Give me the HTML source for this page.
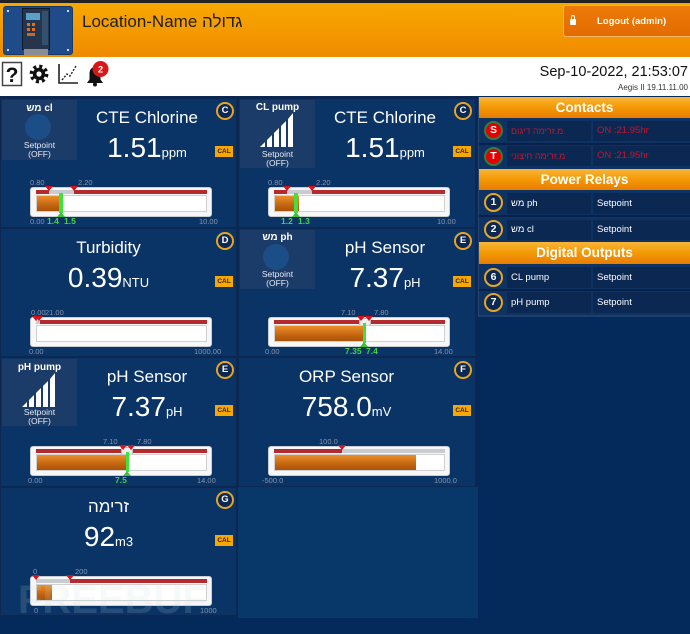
<!DOCTYPE html>
<html><head><meta charset="utf-8">
<style>
*{margin:0;padding:0;box-sizing:border-box}
body{width:690px;height:634px;overflow:hidden;position:relative;background:#032a5a;font-family:"Liberation Sans","DejaVu Sans","Noto Sans CJK JP",sans-serif}
.a{position:absolute}
.p{position:absolute;background:#0a3366;box-shadow:inset 0 0 0 1px #0c2750}
.bx{position:absolute;left:2px;top:2px;width:75px;background:#1b3b68}
.bl{position:absolute;left:0;width:75px;text-align:center;color:#fff;font-weight:bold;font-size:10px;line-height:12px;white-space:nowrap}
.sp{position:absolute;left:0;width:75px;text-align:center;color:#e6ecf4;font-size:8.5px;line-height:10px}
.cir{position:absolute;left:23px;top:14px;width:26px;height:26px;border-radius:50%;background:#1b4d86}
.t{position:absolute;top:10px;text-align:center;color:#fff;font-size:17px;line-height:20px;white-space:nowrap}
.v{position:absolute;top:36px;text-align:center;color:#fff;font-size:28px;line-height:28px;white-space:nowrap}
.v span{font-size:13px}
.bd{position:absolute;left:216px;top:4px;width:18px;height:18px;border-radius:50%;border:2px solid #e5a526;background:#0b2754;color:#fff;font-weight:bold;font-size:9.5px;line-height:14px;text-align:center}
.cal{position:absolute;left:215px;top:48px;width:18px;height:11px;background:#f6a800;color:#3a2000;font-weight:bold;font-size:6.5px;line-height:11px;text-align:center}
.gb{position:absolute;left:30px;top:89px;width:182px;height:30px;background:#f7f7f7;border:1px solid #c9ced5;border-radius:3px}
.gt{position:absolute;left:36px;top:92px;width:171px;height:4px;background:#c8ccd1}
.r{position:absolute;top:92px;height:4px;background:#b42a2e}
.tr{position:absolute;left:36px;top:97px;width:171px;height:17px;background:#fff;border:1px solid #d0d0d0}
.o{position:absolute;left:37px;top:98px;height:15px;background:linear-gradient(#eb8f2a,#c4650f 60%,#a9520a)}
.m{position:absolute;top:88px;width:0;height:0;border-left:4px solid transparent;border-right:4px solid transparent;border-top:5px solid #d7141c}
.gl{position:absolute;top:95px;width:3px;height:20px;background:#3ee23e}
.gtri{position:absolute;top:114px;width:0;height:0;border-left:4px solid transparent;border-right:4px solid transparent;border-bottom:5px solid #3cbf3c}
.kn{position:absolute;top:90px;height:8px;background:#eee;border:1px solid #bbb;border-radius:2px}
.lb{position:absolute;font-size:7.5px;line-height:8px;color:#8796ad;white-space:nowrap}
.lg{position:absolute;top:119px;font-size:8.5px;line-height:9px;color:#46d446;font-weight:bold;white-space:nowrap}
.sh{position:absolute;left:479px;width:211px;background:linear-gradient(#f8b53c,#f49c06 45%,#e97c00);color:#fff;font-weight:bold;font-size:13.5px;text-align:center}
.c1{position:absolute;left:507px;width:84px;background:#0b2853;color:#fff;font-size:9.5px;padding-left:4px;white-space:nowrap}
.c2{position:absolute;left:593px;width:97px;background:#0b2853;color:#fff;font-size:9.5px;padding-left:4px;white-space:nowrap}
.red{color:#c0182f}
.sb{position:absolute;left:484px;width:19px;height:19px;border-radius:50%;border:2px solid #e5a526;background:#0b2754;color:#fff;font-weight:bold;font-size:10.5px;line-height:15px;text-align:center}
.sb.rd{background:#e40000;border-color:#3a7a3f}
.sep{position:absolute;left:479px;width:211px;height:2px;background:#07214a}
</style></head><body>

<!-- header -->
<div class="a" style="left:0;top:0;width:690px;height:3px;background:#222"></div>
<div class="a" style="left:0;top:3px;width:690px;height:54px;background:linear-gradient(#f7a800,#f49a00 50%,#f08a00)"></div>
<div class="a" style="left:3px;top:6px;width:70px;height:49px;background:#1f4c88;border:1px solid #163a6a;border-radius:3px">
  <div class="a" style="left:18px;top:1px;width:28px;height:42px;background:#24354d;border:1px solid #0e1a2a"></div>
  <div class="a" style="left:22px;top:6px;width:14px;height:7px;background:#5aa0c8"></div>
  <div class="a" style="left:23px;top:16px;width:3px;height:3px;background:#e07020"></div>
  <div class="a" style="left:28px;top:16px;width:3px;height:3px;background:#e07020"></div>
  <div class="a" style="left:23px;top:21px;width:3px;height:3px;background:#e07020"></div>
  <div class="a" style="left:28px;top:21px;width:3px;height:3px;background:#e07020"></div>
  <div class="a" style="left:23px;top:26px;width:8px;height:3px;background:#c86a20"></div>
  <div class="a" style="left:38px;top:4px;width:6px;height:34px;background:#33506f"></div>
  <div class="a" style="left:20px;top:42px;width:24px;height:6px;background:#8a8f96"></div>
  <div class="a" style="left:3px;top:3px;width:2px;height:2px;background:#cfd8e4"></div>
  <div class="a" style="left:63px;top:3px;width:2px;height:2px;background:#cfd8e4"></div>
  <div class="a" style="left:3px;top:42px;width:2px;height:2px;background:#cfd8e4"></div>
  <div class="a" style="left:63px;top:42px;width:2px;height:2px;background:#cfd8e4"></div>
</div>
<div class="a" style="left:82px;top:11px;font-size:17px;line-height:22px;color:#1d1d1d;white-space:nowrap">Location-Name גדולה</div>
<div class="a" style="left:563px;top:5px;width:127px;height:32px;background:linear-gradient(#ec7a08,#e36c00);border:1px solid #f6b56a;border-right:none;border-radius:3px 0 0 3px">
  <div class="a" style="left:6px;top:13px;width:6px;height:6px;background:#fff;border-radius:1px"></div>
  <div class="a" style="left:7px;top:9px;width:4px;height:6px;border:1.5px solid #fff;border-bottom:none;border-radius:2px 2px 0 0"></div>
  <div class="a" style="left:33px;top:10px;color:#fff;font-weight:bold;font-size:9.5px;line-height:11px;white-space:nowrap">Logout (admin)</div>
</div>

<!-- toolbar -->
<div class="a" style="left:0;top:57px;width:690px;height:39px;background:#fff"></div>
<svg class="a" style="left:0;top:57px" width="120" height="38" viewBox="0 0 120 38">
  <rect x="2.5" y="5.5" width="19" height="23" fill="#fff" stroke="#444" stroke-width="1.5"/>
  <text x="12" y="25" text-anchor="middle" font-family="Liberation Sans" font-weight="bold" font-size="21" fill="#111">?</text>
  <circle cx="39" cy="17" r="7.6" fill="none" stroke="#111" stroke-width="3.6" stroke-dasharray="3 2.97"/>
  <circle cx="39" cy="17" r="6.2" fill="#111"/>
  <circle cx="39" cy="17" r="2.6" fill="#fff"/>
  <path d="M59 7 V26 H78" fill="none" stroke="#222" stroke-width="1.6"/>
  <path d="M62 23 L67 17 L70 19 L76 9" fill="none" stroke="#222" stroke-width="1.4" stroke-dasharray="2 1.5"/>
  <path d="M87 26 H103 L100.5 22.5 V17 Q100.5 10.5 95 10 Q89.5 10.5 89.5 17 V22.5 Z" fill="#111"/>
  <circle cx="95" cy="27.5" r="2" fill="#111"/>
  <circle cx="100.5" cy="12" r="8" fill="#d81818"/>
  <text x="100.5" y="15.5" text-anchor="middle" font-family="Liberation Sans" font-weight="bold" font-size="9.5" fill="#fff">2</text>
</svg>
<div class="a" style="right:2px;top:64px;font-size:14.5px;line-height:17px;color:#111;white-space:nowrap">Sep-10-2022, 21:53:07</div>
<div class="a" style="right:2px;top:83px;font-size:8px;line-height:9px;color:#333;white-space:nowrap">Aegis II 19.11.11.00</div>

<!-- panels area -->
<div class="a" style="left:0;top:96px;width:478px;height:522px;background:#0c2852"></div>
<div class="a" style="left:238px;top:487px;width:240px;height:131px;background:#083769"></div>

<!-- Panel 1 -->
<div class="p" style="left:0;top:98px;width:237px;height:130px">
  <div class="bx" style="height:60px">
    <div class="bl" style="top:3px">מש cl</div>
    <div class="cir"></div>
    <div class="sp" style="top:40px">Setpoint</div>
    <div class="sp" style="top:49px">(OFF)</div>
  </div>
  <div class="t" style="left:77px;width:140px">CTE Chlorine</div>
  <div class="v" style="left:77px;width:140px">1.51<span>ppm</span></div>
  <div class="bd">C</div>
  <div class="cal">CAL</div>
  <div class="gb"></div><div class="gt"></div>
  <div class="r" style="left:36px;width:13px"></div>
  <div class="r" style="left:74px;width:133px"></div>
  <div class="tr"></div>
  <div class="o" style="width:24px"></div>
  <div class="m" style="left:45px"></div><div class="m" style="left:70px"></div>
  <div class="gl" style="left:59px;width:4px"></div><div class="gtri" style="left:57px"></div>
  <div class="lb" style="left:30px;top:81px">0.80</div>
  <div class="lb" style="left:78px;top:81px">2.20</div>
  <div class="lb" style="left:30px;top:120px">0.00</div>
  <div class="lb" style="left:199px;top:120px">10.00</div>
  <div class="lg" style="left:47px">1.4</div>
  <div class="lg" style="left:64px">1.5</div>
</div>

<!-- Panel 2 -->
<div class="p" style="left:238px;top:98px;width:238px;height:130px">
  <div class="bx" style="height:68px">
    <div class="bl" style="top:2px">CL pump</div>
    <svg class="a" style="left:20px;top:13px" width="33" height="34" viewBox="0 0 33 34">
      <polygon points="0,34 5,34 5,29 0,34" fill="#fff"/>
      <polygon points="7,34 12,34 12,22 7,27" fill="#fff"/>
      <polygon points="14,34 19,34 19,15 14,20" fill="#fff"/>
      <polygon points="21,34 26,34 26,8 21,13" fill="#fff"/>
      <polygon points="28,34 33,34 33,0 28,6" fill="#fff"/>
    </svg>
    <div class="sp" style="top:49px">Setpoint</div>
    <div class="sp" style="top:58px">(OFF)</div>
  </div>
  <div class="t" style="left:77px;width:140px">CTE Chlorine</div>
  <div class="v" style="left:77px;width:140px">1.51<span>ppm</span></div>
  <div class="bd">C</div>
  <div class="cal">CAL</div>
  <div class="gb"></div><div class="gt"></div>
  <div class="r" style="left:36px;width:13px"></div>
  <div class="r" style="left:74px;width:133px"></div>
  <div class="tr"></div>
  <div class="o" style="width:24px"></div>
  <div class="m" style="left:45px"></div><div class="m" style="left:70px"></div>
  <div class="gl" style="left:56px;width:4px"></div><div class="gtri" style="left:54px"></div>
  <div class="lb" style="left:30px;top:81px">0.80</div>
  <div class="lb" style="left:78px;top:81px">2.20</div>
  <div class="lb" style="left:199px;top:120px">10.00</div>
  <div class="lg" style="left:43px">1.2</div>
  <div class="lg" style="left:60px">1.3</div>
</div>

<!-- Panel 3 Turbidity -->
<div class="p" style="left:0;top:228px;width:237px;height:129px">
  <div class="t" style="left:0;width:217px">Turbidity</div>
  <div class="v" style="left:0;width:217px">0.39<span>NTU</span></div>
  <div class="bd">D</div>
  <div class="cal">CAL</div>
  <div class="gb"></div><div class="gt"></div>
  <div class="r" style="left:40px;width:167px"></div>
  <div class="tr"></div>
  <div class="m" style="left:32px"></div><div class="m" style="left:35px"></div>
  <div class="lb" style="left:31px;top:81px">0.00</div>
  <div class="lb" style="left:45px;top:81px">21.00</div>
  <div class="lb" style="left:29px;top:120px">0.00</div>
  <div class="lb" style="left:194px;top:120px">1000.00</div>
</div>

<!-- Panel 4 pH Sensor -->
<div class="p" style="left:238px;top:228px;width:238px;height:129px">
  <div class="bx" style="height:59px">
    <div class="bl" style="top:2px">מש ph</div>
    <div class="cir"></div>
    <div class="sp" style="top:39px">Setpoint</div>
    <div class="sp" style="top:48px">(OFF)</div>
  </div>
  <div class="t" style="left:77px;width:140px">pH Sensor</div>
  <div class="v" style="left:77px;width:140px">7.37<span>pH</span></div>
  <div class="bd">E</div>
  <div class="cal">CAL</div>
  <div class="gb"></div><div class="gt"></div>
  <div class="r" style="left:36px;width:86px"></div>
  <div class="r" style="left:132px;width:75px"></div>
  <div class="kn" style="left:121px;width:12px"></div>
  <div class="tr"></div>
  <div class="o" style="width:89px"></div>
  <div class="m" style="left:119px"></div><div class="m" style="left:127px"></div>
  <div class="gl" style="left:125px"></div><div class="gtri" style="left:122px"></div>
  <div class="lb" style="left:103px;top:81px">7.10</div>
  <div class="lb" style="left:136px;top:81px">7.80</div>
  <div class="lb" style="left:27px;top:120px">0.00</div>
  <div class="lb" style="left:196px;top:120px">14.00</div>
  <div class="lg" style="left:107px">7.35</div>
  <div class="lg" style="left:128px">7.4</div>
</div>

<!-- Panel 5 pH Sensor w/ pump -->
<div class="p" style="left:0;top:357px;width:237px;height:130px">
  <div class="bx" style="height:67px">
    <div class="bl" style="top:3px">pH pump</div>
    <svg class="a" style="left:20px;top:14px" width="33" height="34" viewBox="0 0 33 34">
      <polygon points="0,34 5,34 5,29 0,34" fill="#fff"/>
      <polygon points="7,34 12,34 12,22 7,27" fill="#fff"/>
      <polygon points="14,34 19,34 19,15 14,20" fill="#fff"/>
      <polygon points="21,34 26,34 26,8 21,13" fill="#fff"/>
      <polygon points="28,34 33,34 33,0 28,6" fill="#fff"/>
    </svg>
    <div class="sp" style="top:48px">Setpoint</div>
    <div class="sp" style="top:57px">(OFF)</div>
  </div>
  <div class="t" style="left:77px;width:140px">pH Sensor</div>
  <div class="v" style="left:77px;width:140px">7.37<span>pH</span></div>
  <div class="bd">E</div>
  <div class="cal">CAL</div>
  <div class="gb"></div><div class="gt"></div>
  <div class="r" style="left:36px;width:86px"></div>
  <div class="r" style="left:132px;width:75px"></div>
  <div class="kn" style="left:121px;width:12px"></div>
  <div class="tr"></div>
  <div class="o" style="width:89px"></div>
  <div class="m" style="left:119px"></div><div class="m" style="left:127px"></div>
  <div class="gl" style="left:126px"></div><div class="gtri" style="left:123px"></div>
  <div class="lb" style="left:103px;top:81px">7.10</div>
  <div class="lb" style="left:137px;top:81px">7.80</div>
  <div class="lb" style="left:28px;top:120px">0.00</div>
  <div class="lb" style="left:197px;top:120px">14.00</div>
  <div class="lg" style="left:115px">7.5</div>
</div>

<!-- Panel 6 ORP -->
<div class="p" style="left:238px;top:357px;width:238px;height:130px">
  <div class="t" style="left:0;width:217px">ORP Sensor</div>
  <div class="v" style="left:0;width:217px">758.0<span>mV</span></div>
  <div class="bd">F</div>
  <div class="cal">CAL</div>
  <div class="gb"></div><div class="gt"></div>
  <div class="r" style="left:36px;width:68px"></div>
  <div class="tr"></div>
  <div class="o" style="width:141px"></div>
  <div class="m" style="left:100px"></div>
  <div class="lb" style="left:81px;top:81px">100.0</div>
  <div class="lb" style="left:24px;top:120px">-500.0</div>
  <div class="lb" style="left:196px;top:120px">1000.0</div>
</div>

<!-- Panel 7 zrima -->
<div class="p" style="left:0;top:487px;width:237px;height:129px">
  <div class="t" style="left:0;width:217px">זרימה</div>
  <div class="v" style="left:0;width:217px">92<span>m3</span></div>
  <div class="bd">G</div>
  <div class="cal">CAL</div>
  <div class="gb"></div><div class="gt"></div>
  <div class="r" style="left:70px;width:137px"></div>
  <div class="tr"></div>
  <div class="o" style="width:15px"></div>
  <div class="m" style="left:32px"></div><div class="m" style="left:66px"></div>
  <div class="lb" style="left:33px;top:81px">0</div>
  <div class="lb" style="left:75px;top:81px">200</div>
  <div class="lb" style="left:34px;top:120px">0</div>
  <div class="lb" style="left:200px;top:120px">1000</div>
</div>

<!-- watermark -->
<div class="a" style="left:18px;top:580px;font-size:40px;line-height:40px;font-weight:bold;color:rgba(190,215,225,0.16);white-space:nowrap">FREEBUF</div>

<!-- sidebar -->
<div class="a" style="left:478px;top:97px;width:212px;height:220px;background:#0e3363;border-left:1px solid #24466f"></div>
<div class="sh" style="top:97px;height:21px;line-height:21px">Contacts</div>
<div class="sb rd" style="top:121px">S</div>
<div class="c1 red" style="top:121px;height:20px;line-height:20px;font-size:9px">מ.זרימה דיגום</div>
<div class="c2 red" style="top:121px;height:20px;line-height:20px">ON :21.95hr</div>
<div class="sep" style="top:143px"></div>
<div class="sb rd" style="top:147px">T</div>
<div class="c1 red" style="top:146px;height:20px;line-height:20px;font-size:9px">מ.זרימה חיצוני</div>
<div class="c2 red" style="top:146px;height:20px;line-height:20px">ON :21.95hr</div>

<div class="sh" style="top:169px;height:21px;line-height:21px">Power Relays</div>
<div class="sb" style="top:193px">1</div>
<div class="c1" style="top:193px;height:21px;line-height:21px">מש ph</div>
<div class="c2" style="top:193px;height:21px;line-height:21px">Setpoint</div>
<div class="sep" style="top:215px"></div>
<div class="sb" style="top:220px">2</div>
<div class="c1" style="top:220px;height:20px;line-height:20px">מש cl</div>
<div class="c2" style="top:220px;height:20px;line-height:20px">Setpoint</div>

<div class="sh" style="top:242px;height:22px;line-height:22px">Digital Outputs</div>
<div class="sb" style="top:268px">6</div>
<div class="c1" style="top:267px;height:21px;line-height:21px">CL pump</div>
<div class="c2" style="top:267px;height:21px;line-height:21px">Setpoint</div>
<div class="sep" style="top:289px"></div>
<div class="sb" style="top:293px">7</div>
<div class="c1" style="top:292px;height:21px;line-height:21px">pH pump</div>
<div class="c2" style="top:292px;height:21px;line-height:21px">Setpoint</div>
<div class="sep" style="top:315px;height:2px;background:#1d3f6c"></div>

</body></html>
